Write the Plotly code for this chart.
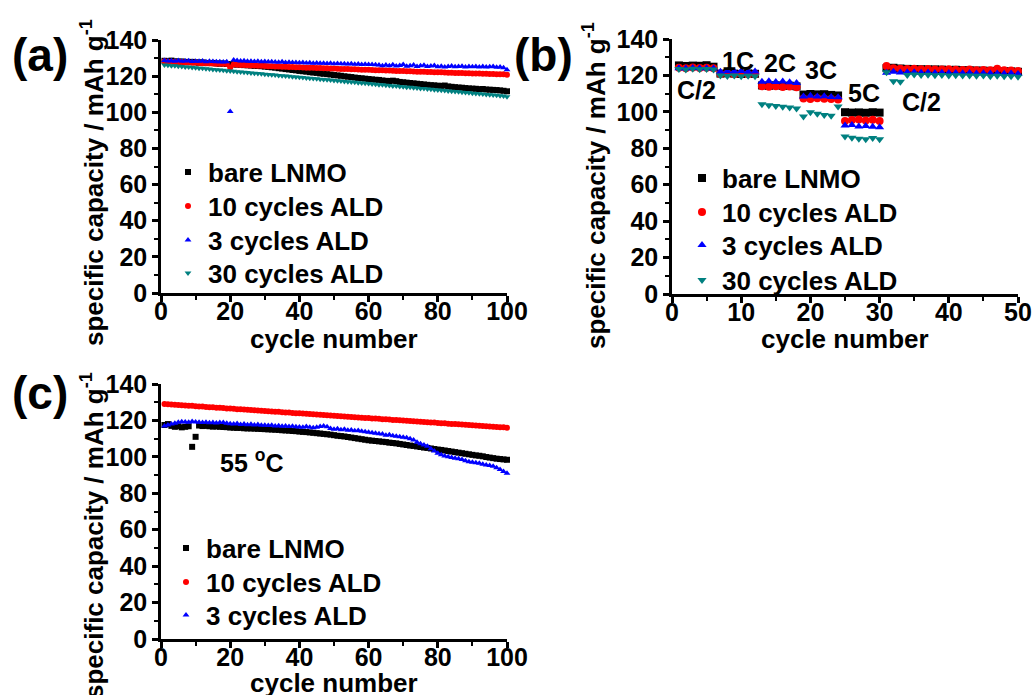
import plotly.graph_objects as go

# ---------------- data ----------------
series_names = ["bare LNMO", "10 cycles ALD", "3 cycles ALD", "30 cycles ALD"]

cycles_a = list(range(1, 101))
a_bare = [128.5,128.3,128.6,128.2,128.0,128.1,127.9,127.8,127.9,127.6,
          127.5,127.6,127.3,127.2,127.3,127.0,126.9,127.0,126.7,126.6,
          126.5,126.4,126.3,126.1,126.0,125.9,125.7,125.6,125.5,125.3,
          125.1,124.9,124.7,124.4,124.2,123.9,123.7,123.4,123.2,122.9,
          122.7,122.5,122.2,122.0,121.8,121.5,121.3,121.1,120.9,120.6,
          120.4,120.2,119.9,119.7,119.5,119.2,119.0,118.8,118.6,118.4,
          118.2,118.0,117.9,117.6,117.4,117.3,117.5,117.2,116.8,116.6,
          116.4,116.2,116.0,115.8,115.6,115.4,115.2,115.0,114.9,114.7,
          114.6,114.8,114.3,114.1,113.9,113.7,113.6,113.4,113.2,113.1,
          113.0,112.8,112.9,112.6,112.5,112.4,112.3,112.1,111.9,111.6]
a_ald10 = [128.2,128.0,127.9,127.8,127.7,127.8,127.6,127.5,127.4,127.5,
           127.3,127.2,127.1,127.2,127.0,126.9,126.8,126.9,126.7,124.8,
           126.4,126.3,126.2,126.1,126.0,125.9,125.9,125.8,125.7,125.6,
           125.5,125.5,125.4,125.3,125.2,125.2,125.1,125.0,124.9,124.9,
           124.8,124.7,124.7,124.6,124.5,124.5,124.4,124.3,124.2,124.2,
           124.1,124.0,124.0,123.9,123.8,123.8,123.7,123.6,123.5,123.5,
           123.4,123.3,123.3,123.2,123.1,123.1,123.0,122.9,122.9,122.8,
           122.7,122.7,122.6,122.5,122.5,122.4,122.3,122.3,122.2,122.1,
           122.1,122.0,121.9,121.9,121.8,121.8,121.7,121.6,121.6,121.5,
           121.5,121.4,121.3,121.3,121.2,121.2,121.1,121.0,121.0,120.8]
a_ald3 = [128.6,128.4,128.5,128.3,128.6,128.2,128.4,128.5,128.1,128.3,
          128.2,128.4,128.0,128.2,128.1,127.9,128.0,127.8,127.9,100.5,
          128.9,128.6,128.4,128.5,128.2,128.3,128.1,128.2,128.0,128.1,
          127.9,128.0,127.8,127.7,127.9,127.6,127.7,127.5,127.6,127.4,
          127.5,127.3,127.4,127.2,127.3,127.1,127.2,127.0,127.1,126.9,
          127.0,126.8,126.9,126.7,126.8,126.6,126.7,126.5,126.6,126.4,
          126.5,126.3,126.2,125.8,126.1,125.7,126.3,125.6,125.9,126.4,
          125.5,125.8,126.2,125.4,125.7,126.0,125.3,125.6,125.9,125.2,
          125.5,125.1,125.4,125.6,125.2,125.3,125.5,125.1,125.4,125.2,
          125.3,125.0,125.4,125.1,125.2,125.3,124.9,125.1,124.6,123.5]
a_ald30 = [126.2,126.0,125.8,125.7,125.5,125.3,125.1,125.0,124.8,124.6,
           124.4,124.3,124.1,123.9,123.7,123.6,123.4,123.2,123.0,122.9,
           122.7,122.5,122.3,122.2,122.0,121.8,121.6,121.5,121.3,121.1,
           120.9,120.8,120.6,120.4,120.2,120.1,119.9,119.7,119.5,119.4,
           119.2,119.0,118.8,118.7,118.5,118.3,118.1,118.0,117.8,117.6,
           117.4,117.3,117.1,116.9,116.7,116.6,116.4,116.2,116.0,115.9,
           115.7,115.5,115.3,115.2,115.0,114.8,114.6,114.5,114.3,114.1,
           113.9,113.8,113.6,113.4,113.2,113.1,112.9,112.7,112.5,112.4,
           112.2,112.0,111.8,111.7,111.5,111.3,111.1,111.0,110.8,110.6,
           110.4,110.3,110.1,109.9,109.7,109.6,109.4,109.2,109.0,108.6]

cycles_b = list(range(1, 51))
b_bare = [125.5,125.2,125.4,125.3,125.6,124.8,
          121.0,121.2,121.0,120.8,121.1,120.9,
          114.5,114.3,114.6,114.2,114.4,114.0,
          109.5,109.8,109.6,109.7,109.3,109.0,
          99.8,99.6,99.7,99.5,99.8,99.6,
          124.0,124.2,123.8,123.6,123.5,123.4,123.3,123.3,123.2,123.0,
          123.1,122.9,122.8,122.7,122.6,122.5,122.4,122.3,122.2,122.0]
b_ald10 = [124.2,124.0,124.3,124.1,124.2,124.0,
           120.8,121.0,120.7,120.9,120.6,120.8,
           114.0,113.8,114.1,113.7,113.9,113.5,
           107.3,107.0,107.5,107.2,107.0,106.8,
           95.0,95.5,95.8,95.2,95.6,95.0,
           125.2,124.0,123.7,123.5,123.6,123.4,123.5,123.3,123.2,123.4,
           123.1,123.0,123.2,122.9,123.0,122.8,123.6,122.9,122.7,122.4]
b_ald3 = [124.0,123.8,124.1,123.9,124.0,123.8,
          122.0,122.3,122.1,122.4,122.0,122.2,
          116.5,116.8,116.4,116.6,116.2,115.8,
          108.5,108.8,108.4,108.6,108.2,108.0,
          92.5,92.8,92.0,92.3,91.8,91.5,
          121.5,122.0,121.6,121.8,121.7,121.5,121.6,121.4,121.5,121.3,
          121.4,121.2,121.3,121.1,121.2,121.0,121.1,120.9,121.0,120.8]
b_ald30 = [123.5,123.3,123.6,123.4,123.5,123.2,
           120.0,119.7,119.9,119.6,119.8,119.5,
           104.2,103.6,103.2,102.8,102.4,101.8,
           97.5,99.8,99.0,98.3,97.8,103.0,
           86.5,85.8,85.2,85.0,85.6,85.0,
           121.8,116.8,116.5,120.3,120.5,120.2,120.4,120.1,120.3,120.0,
           120.1,119.9,120.0,119.8,119.9,119.6,119.8,119.5,119.6,119.3]
rate_labels = ["C/2", "1C", "2C", "3C", "5C", "C/2"]

cycles_c = list(range(1, 101))
c_bare = [117.5,118.0,117.0,116.5,116.8,116.2,116.5,116.8,105.5,111.0,
          117.2,116.9,117.0,116.8,116.6,116.7,116.5,116.4,116.3,116.1,
          116.0,115.9,115.9,115.7,115.6,115.6,115.5,115.4,115.3,115.2,
          115.1,115.0,114.9,114.8,114.6,114.5,114.4,114.2,114.1,113.9,
          113.7,113.6,113.4,113.2,113.0,112.8,112.6,112.4,112.2,111.9,
          111.6,111.4,111.2,110.9,110.6,110.3,110.0,109.7,109.4,109.1,
          108.9,108.7,108.5,108.3,108.1,107.8,107.6,107.4,107.1,106.8,
          106.5,106.2,106.0,105.7,105.4,105.1,104.9,104.6,104.3,104.0,
          103.8,103.5,103.2,102.9,102.6,102.3,102.0,101.7,101.4,101.1,
          100.8,100.6,100.3,99.9,99.6,99.3,99.0,98.8,98.6,98.4]
c_ald10 = [129.0,128.9,128.7,128.6,128.5,128.4,128.2,128.1,128.0,127.8,
           127.7,127.6,127.4,127.3,127.2,127.0,126.9,126.8,126.6,126.5,
           126.4,126.2,126.1,126.0,125.8,125.7,125.6,125.5,125.3,125.2,
           125.1,124.9,124.8,124.7,124.5,124.4,124.3,124.1,124.0,123.9,
           123.8,123.6,123.5,123.4,123.2,123.1,123.0,122.8,122.7,122.6,
           122.4,122.3,122.2,122.0,121.9,121.8,121.6,121.5,121.4,121.3,
           121.1,121.0,120.9,120.7,120.6,120.5,120.3,120.2,120.1,119.9,
           119.8,119.7,119.6,119.4,119.3,119.2,119.0,118.9,118.8,118.6,
           118.5,118.4,118.2,118.1,118.0,117.9,117.7,117.6,117.5,117.3,
           117.2,117.1,116.9,116.8,116.7,116.5,116.4,116.3,116.2,116.0]
c_ald3 = [117.0,117.5,118.0,118.5,119.0,119.3,119.2,119.0,119.4,119.1,
          119.0,118.8,119.0,118.7,118.9,118.6,118.8,118.9,118.4,118.2,
          118.0,118.3,117.8,118.0,117.6,117.9,117.5,117.7,117.4,117.3,
          117.2,117.4,117.0,117.1,116.8,117.0,116.7,116.8,116.5,116.4,
          116.3,116.6,116.2,116.0,116.3,116.7,117.0,116.5,115.6,115.2,
          115.4,114.9,115.2,114.6,114.8,114.3,114.5,114.0,113.8,113.5,
          113.2,113.0,112.7,112.5,111.8,112.2,111.6,111.3,111.0,110.8,
          110.5,110.0,109.3,108.0,107.2,106.5,105.8,104.5,103.2,102.0,
          101.2,100.5,100.0,99.6,99.2,99.0,98.5,97.8,97.3,97.0,
          96.8,96.5,96.0,95.5,95.2,94.8,94.0,93.0,92.0,91.0]

# ---------------- styles ----------------
W, H = 1034, 695
FONT = "Liberation Sans"
colors = ["#000000", "#ff0000", "#0000ff", "#008080"]
symbols = ["square", "circle", "triangle-up", "triangle-down"]

def px(p):
    return p / W

def py(p):
    return 1 - p / H

fig = go.Figure()
legend_layout = {}
legend_counter = [0]
legfont = dict(family=FONT, size=26, color="black", weight="bold")

def new_legend(xp, yp):
    legend_counter[0] += 1
    n = legend_counter[0]
    key = "legend" if n == 1 else "legend%d" % n
    legend_layout[key] = dict(x=px(xp), y=py(yp), xref="paper", yref="paper",
                              xanchor="left", yanchor="middle",
                              bgcolor="rgba(0,0,0,0)", borderwidth=0, font=legfont,
                              itemwidth=30)
    return key

def add_series(xs, ys_list, names, xa, ya, size, leg_x, leg_ys):
    for i, ys in enumerate(ys_list):
        key = new_legend(leg_x, leg_ys[i])
        fig.add_trace(go.Scatter(
            x=xs, y=ys, mode="markers", name=names[i],
            xaxis=xa, yaxis=ya, legend=key, cliponaxis=False,
            marker=dict(symbol=symbols[i], color=colors[i], size=size,
                        line=dict(width=0)),
        ))

add_series(cycles_a, [a_bare, a_ald10, a_ald3, a_ald30], series_names, "x", "y", 6,
           168, [172, 206, 240, 273])
add_series(cycles_b, [b_bare, b_ald10, b_ald3, b_ald30], series_names, "x2", "y2", 8,
           682, [178, 212, 245, 280])
add_series(cycles_c, [c_bare, c_ald10, c_ald3], series_names[:3], "x3", "y3", 6,
           166, [548, 582, 615])

tickfont = dict(family=FONT, size=25, color="black", weight="bold")

def xaxis_cfg(dom, rng, dt, mdt, anchor):
    return dict(domain=dom, range=rng, dtick=dt, tick0=0, anchor=anchor,
                showline=True, linewidth=2.5,
                linecolor="black", ticks="outside", ticklen=6, tickwidth=2.5,
                tickcolor="black", showgrid=False, zeroline=False, tickfont=tickfont,
                ticklabelstandoff=-12,
                minor=dict(dtick=mdt, ticks="outside", ticklen=4, tickwidth=2,
                           tickcolor="black", showgrid=False))

def yaxis_cfg(dom, anchor):
    return dict(domain=dom, range=[0, 140], dtick=20, tick0=0, anchor=anchor,
                showline=True, linewidth=2.5, linecolor="black", ticks="outside",
                ticklen=6, tickwidth=2.5, tickcolor="black", showgrid=False,
                zeroline=False, tickfont=tickfont,
                minor=dict(dtick=10, ticks="outside", ticklen=4, tickwidth=2,
                           tickcolor="black", showgrid=False))

xa_dom = [px(161), px(507)]
xb_dom = [px(672), px(1018)]
ya_dom = [py(293), py(40)]
yb_dom = [py(294), py(39)]
yc_dom = [py(639), py(384)]

fig.update_layout(
    width=W, height=H,
    margin=dict(l=0, r=0, t=0, b=0, autoexpand=False),
    paper_bgcolor="white", plot_bgcolor="white",
    xaxis=xaxis_cfg(xa_dom, [0, 100], 20, 10, "y"),
    yaxis=yaxis_cfg(ya_dom, "x"),
    xaxis2=xaxis_cfg(xb_dom, [0, 50], 10, 5, "y2"),
    yaxis2=yaxis_cfg(yb_dom, "x2"),
    xaxis3=xaxis_cfg(xa_dom, [0, 100], 20, 10, "y3"),
    yaxis3=yaxis_cfg(yc_dom, "x3"),
    showlegend=True,
    **legend_layout,
)

annots = []
# panel labels
for lab, xp, yp in [("(a)", 40, 55), ("(b)", 543, 55), ("(c)", 40, 393)]:
    annots.append(dict(text=lab, x=px(xp), y=py(yp), xref="paper", yref="paper",
                       showarrow=False, xanchor="center", yanchor="middle",
                       font=dict(family=FONT, size=46, color="black", weight="bold")))
# y titles
ytitle = "specific capacity / mAh g<sup>-1</sup>"
for xp, yp in [(92, 183), (594, 186), (92, 536)]:
    annots.append(dict(text=ytitle, x=px(xp), y=py(yp), xref="paper", yref="paper",
                       showarrow=False, textangle=-90, xanchor="center", yanchor="middle",
                       font=dict(family=FONT, size=26, color="black", weight="bold")))
# x titles
for xp, yp in [(334, 339), (845, 339), (334, 683)]:
    annots.append(dict(text="cycle number", x=px(xp), y=py(yp), xref="paper", yref="paper",
                       showarrow=False, xanchor="center", yanchor="middle",
                       font=dict(family=FONT, size=26, color="black", weight="bold")))
# rate labels in (b)
rate_pos = [(3.5, 112), (9.5, 128), (15.6, 126.8), (21.5, 123), (27.7, 110.4), (36.1, 105.4)]
for lab, (xv, yv) in zip(rate_labels, rate_pos):
    annots.append(dict(text=lab, x=xv, y=yv, xref="x2", yref="y2", showarrow=False,
                       xanchor="center", yanchor="middle",
                       font=dict(family=FONT, size=25, color="black", weight="bold")))
# temperature label in (c)
annots.append(dict(text="55 <sup>o</sup>C", x=26.3, y=97.7, xref="x3", yref="y3",
                   showarrow=False, xanchor="center", yanchor="middle",
                   font=dict(family=FONT, size=25, color="black", weight="bold")))

fig.update_layout(annotations=annots)

fig.write_html("out.html", config={"displayModeBar": False},
               post_script="document.body.style.margin='0';")
